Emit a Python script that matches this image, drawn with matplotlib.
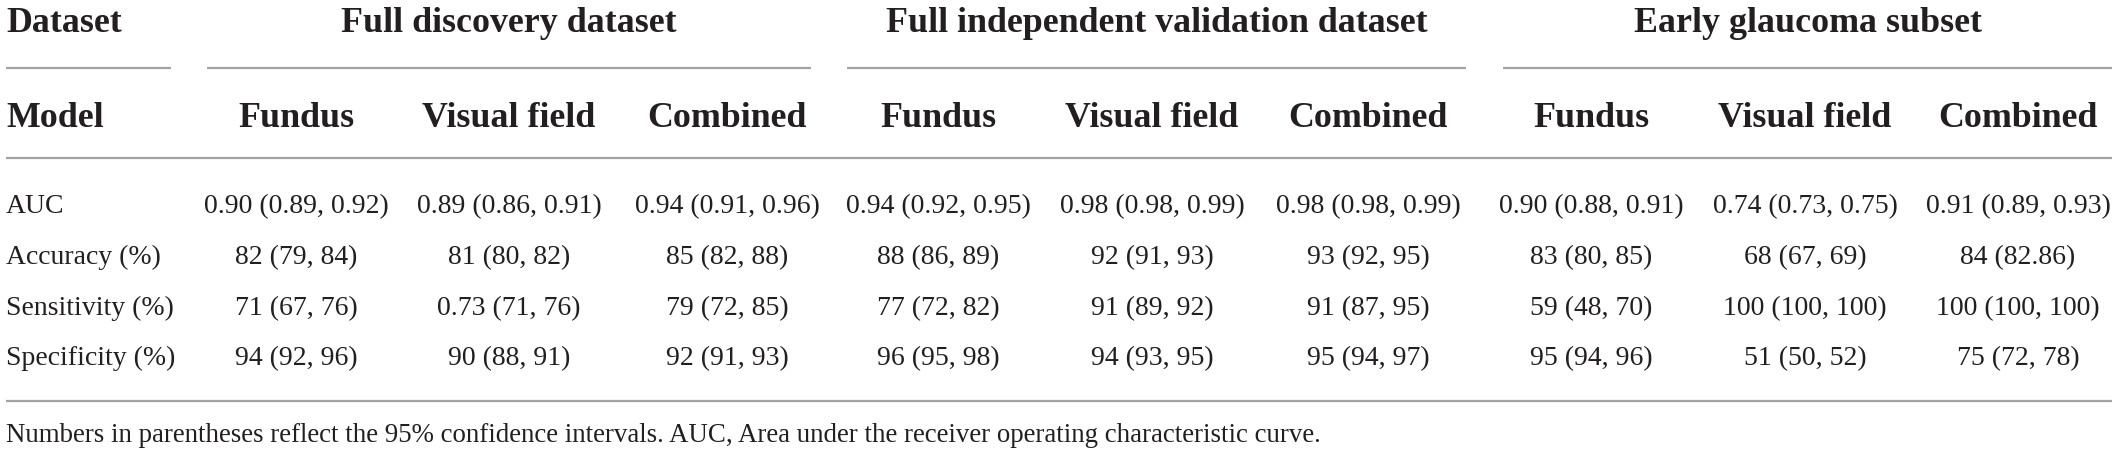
import matplotlib
matplotlib.use("Agg")
import matplotlib.pyplot as plt

# ---- data ----
groups = ["Full discovery dataset", "Full independent validation dataset", "Early glaucoma subset"]
models = ["Fundus", "Visual field", "Combined"] * 3
row_labels = ["AUC", "Accuracy (%)", "Sensitivity (%)", "Specificity (%)"]
auc = ["0.90 (0.89, 0.92)", "0.89 (0.86, 0.91)", "0.94 (0.91, 0.96)",
       "0.94 (0.92, 0.95)", "0.98 (0.98, 0.99)", "0.98 (0.98, 0.99)",
       "0.90 (0.88, 0.91)", "0.74 (0.73, 0.75)", "0.91 (0.89, 0.93)"]
accuracy = ["82 (79, 84)", "81 (80, 82)", "85 (82, 88)",
            "88 (86, 89)", "92 (91, 93)", "93 (92, 95)",
            "83 (80, 85)", "68 (67, 69)", "84 (82.86)"]
sensitivity = ["71 (67, 76)", "0.73 (71, 76)", "79 (72, 85)",
               "77 (72, 82)", "91 (89, 92)", "91 (87, 95)",
               "59 (48, 70)", "100 (100, 100)", "100 (100, 100)"]
specificity = ["94 (92, 96)", "90 (88, 91)", "92 (91, 93)",
               "96 (95, 98)", "94 (93, 95)", "95 (94, 97)",
               "95 (94, 96)", "51 (50, 52)", "75 (72, 78)"]
footnote = ("Numbers in parentheses reflect the 95% confidence intervals. "
            "AUC, Area under the receiver operating characteristic curve.")

# ---- layout ----
W, H = 2117, 456
fig = plt.figure(figsize=(W / 100, H / 100), dpi=100)
ax = fig.add_axes([0, 0, 1, 1])
ax.set_xlim(0, W)
ax.set_ylim(H, 0)
ax.axis("off")

FONT = "Liberation Serif"
TXT = "#231f20"
LINE = "#a3a3a3"
LW = 1.6
body_fs = 20
head_fs = 25.8
foot_fs = 19.4

col_x = [296, 509, 727, 938, 1152, 1368, 1591, 1805, 2018]
group_spans = [(207, 811), (847, 1466), (1503, 2112)]
left = 6
right = 2112

y_group = 32
y_line1 = 69
y_model = 127
y_line2 = 159
row_y = [213, 264, 315, 365]
y_line3 = 402
y_foot = 442

# header row 1
ax.text(left, y_group, "Dataset", fontfamily=FONT, fontweight="bold",
        fontsize=head_fs, color=TXT, ha="left", va="baseline")
for g, (x0, x1) in zip(groups, group_spans):
    ax.text((x0 + x1) / 2, y_group, g, fontfamily=FONT, fontweight="bold",
            fontsize=head_fs, color=TXT, ha="center", va="baseline")
    ax.plot([x0, x1], [y_line1, y_line1], color=LINE, lw=LW, solid_capstyle="butt")
ax.plot([left, 171], [y_line1, y_line1], color=LINE, lw=LW, solid_capstyle="butt")

# header row 2
ax.text(left, y_model, "Model", fontfamily=FONT, fontweight="bold",
        fontsize=head_fs, color=TXT, ha="left", va="baseline")
for x, m in zip(col_x, models):
    ax.text(x, y_model, m, fontfamily=FONT, fontweight="bold",
            fontsize=head_fs, color=TXT, ha="center", va="baseline")
ax.plot([left, right], [y_line2, y_line2], color=LINE, lw=LW, solid_capstyle="butt")

# body
rows = [auc, accuracy, sensitivity, specificity]
for y, lab, vals in zip(row_y, row_labels, rows):
    ax.text(left, y, lab, fontfamily=FONT, fontsize=body_fs, color=TXT,
            ha="left", va="baseline")
    for x, v in zip(col_x, vals):
        ax.text(x, y, v, fontfamily=FONT, fontsize=body_fs, color=TXT,
                ha="center", va="baseline")
ax.plot([left, right], [y_line3, y_line3], color=LINE, lw=LW, solid_capstyle="butt")

ax.text(left, y_foot, footnote, fontfamily=FONT, fontsize=foot_fs, color=TXT,
        ha="left", va="baseline")

fig.savefig("out.png", dpi=100, facecolor="white")
